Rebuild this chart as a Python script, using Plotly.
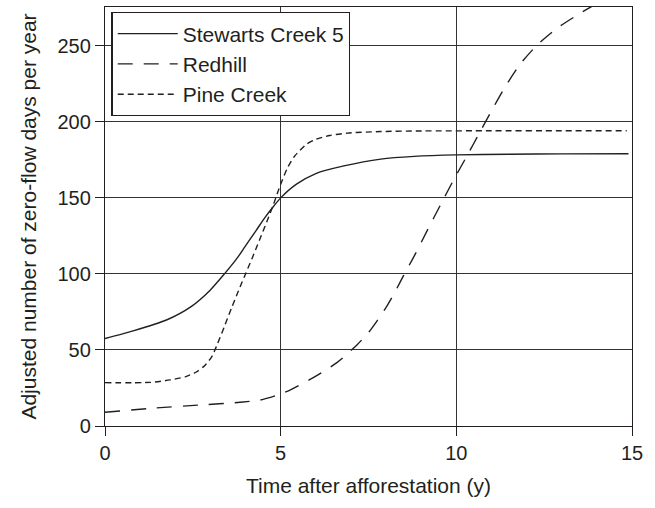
import plotly.graph_objects as go

# Adjusted zero-flow days per year after afforestation, three catchments
stewarts_x = [0, 0.8, 1.75, 2.45, 3.0, 3.4, 3.75, 4.0, 4.3, 4.55, 4.8, 5.0, 5.45, 6.0,
              6.8, 7.85, 8.8, 10.0, 11.5, 13.0, 14.9]
stewarts_y = [57.5, 62.5, 69.7, 78.5, 89.5, 100, 110, 118.5, 128.5, 137, 144.5, 150,
              159, 166, 171, 175.5, 177.3, 178.3, 178.7, 178.9, 179]

redhill_x = [0, 1.3, 2.7, 3.85, 4.42, 5.0, 5.32, 5.94, 6.6, 7.17, 7.5, 7.74, 8.0, 8.25,
             8.5, 8.83, 9.17, 9.54, 9.88, 10.3, 10.68, 11.02, 11.39, 11.82, 12.3, 12.87,
             13.77, 14.2]
redhill_y = [9, 11.6, 13.8, 15.6, 17.1, 21, 24.3, 32, 41.7, 53.3, 61.5, 69, 78, 88,
             99, 113, 128.5, 145, 160, 177.5, 193.6, 208, 223, 238, 250.5, 261.6,
             274.8, 280]

pine_x = [0, 1.3, 1.85, 2.3, 2.6, 2.85, 3.05, 3.2, 3.4, 3.6, 3.8, 4.0, 4.2, 4.4, 4.6,
          4.8, 5.0, 5.2, 5.4, 5.75, 6.0, 6.4, 6.9, 7.85, 9.0, 11.0, 13.0, 14.85]
pine_y = [28.5, 28.7, 30.3, 32.5, 35.5, 40, 46, 54, 65.5, 77.5, 89, 100, 111, 122.5,
          134, 146, 159, 170, 177.5, 185.5, 188.5, 191, 192.6, 193.6, 194, 194.1,
          194.1, 194.1]

x_ticks = [0, 5, 10, 15]
y_ticks = [0, 50, 100, 150, 200, 250]

INK = "#231f20"
FONT = "Liberation Sans, Arial, sans-serif"

fig = go.Figure()
fig.add_trace(go.Scatter(x=stewarts_x, y=stewarts_y, mode="lines", name="Stewarts Creek 5",
                         line=dict(color=INK, width=1.4, shape="spline", smoothing=0.7)))
fig.add_trace(go.Scatter(x=redhill_x, y=redhill_y, mode="lines", name="Redhill",
                         line=dict(color=INK, width=1.4, dash="15px,11px",
                                   shape="spline", smoothing=0.7)))
fig.add_trace(go.Scatter(x=pine_x, y=pine_y, mode="lines", name="Pine Creek",
                         line=dict(color=INK, width=1.4, dash="6px,4px",
                                   shape="spline", smoothing=0.7)))

axis_common = dict(
    showline=True, linecolor=INK, linewidth=1.4, mirror=True,
    showgrid=True, gridcolor="#333333", gridwidth=1.3,
    ticks="outside", ticklen=9, tickwidth=1.4, tickcolor=INK,
    zeroline=False,
    tickfont=dict(family=FONT, size=20, color=INK),
)

fig.update_layout(
    width=655, height=508,
    margin=dict(l=105, r=23, t=7, b=82),
    paper_bgcolor="white", plot_bgcolor="white",
    font=dict(family=FONT, size=20, color=INK),
    xaxis=dict(range=[0, 15], tickvals=x_ticks,
               title=dict(text="Time after afforestation (y)",
                          font=dict(family=FONT, size=21, color=INK), standoff=15),
               **axis_common),
    yaxis=dict(range=[0, 275.5], tickvals=y_ticks,
               title=dict(text="Adjusted number of zero-flow days per year",
                          font=dict(family=FONT, size=21, color=INK), standoff=15),
               **axis_common),
    legend=dict(x=0.012, y=0.988, xanchor="left", yanchor="top",
                bgcolor="white", bordercolor=INK, borderwidth=1.4,
                font=dict(family=FONT, size=21, color=INK),
                itemwidth=60, tracegroupgap=0),
    showlegend=True,
)

fig.write_html("out.html")
